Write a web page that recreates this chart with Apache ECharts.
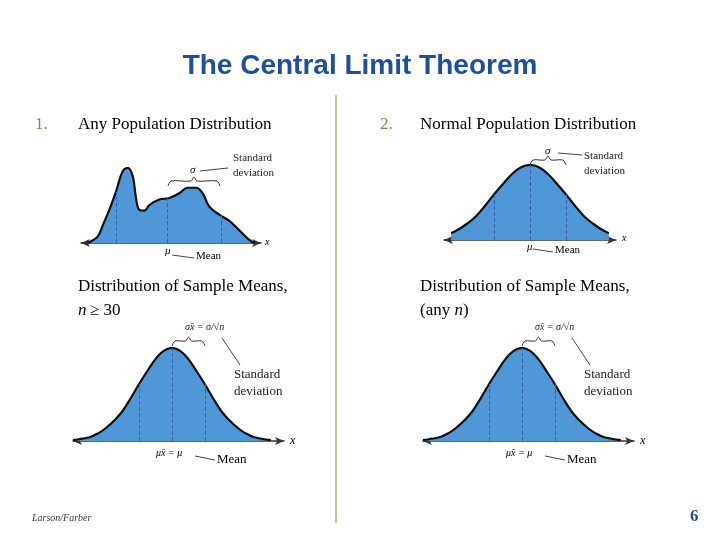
<!DOCTYPE html>
<html><head><meta charset="utf-8">
<script src="https://cdn.jsdelivr.net/npm/echarts@6/dist/echarts.min.js"></script>
<style>html,body{margin:0;background:#fff}#c{width:720px;height:540px}</style>
</head><body><div id="c"></div>
<script>
// any population distribution (x in 0..100, height)
const popX = [0, 1, 6, 9, 13, 17, 21, 24, 27, 29, 31, 34, 37, 43, 49, 55, 60, 65, 69, 73, 79, 85, 91, 97, 100]
const popY = [0, 1, 8, 22, 42, 65, 91, 95, 85, 57, 42, 41, 48, 55, 57, 63, 70, 70, 63, 46, 36, 28, 16, 4, 0]
const popDash = [17, 48, 80]
const popDashH = [65, 57, 36]
// normal curves, x in sigma units, height relative to peak
const normX = [-3, -2.5, -2.2, -2, -1.75, -1.5, -1.25, -1, -0.75, -0.5, -0.25, 0, 0.25, 0.5, 0.75, 1, 1.25, 1.5, 1.75, 2, 2.2, 2.5, 3]
const normY = [0.01, 0.04, 0.09, 0.14, 0.22, 0.32, 0.46, 0.61, 0.75, 0.88, 0.97, 1, 0.97, 0.88, 0.75, 0.61, 0.46, 0.32, 0.22, 0.14, 0.09, 0.04, 0.01]
const sigmaDash = [-1, 0, 1]
const sigmaDashH = [0.61, 1, 0.61]

const chart = echarts.init(document.getElementById('c'))
const blue = '#4f97d6'
const serif = 'Liberation Serif'

function pairs(xs, ys, lo, hi) {
    const out = []
    xs.forEach((x, i) => { if (x >= lo && x <= hi) out.push([x, ys[i]]) })
    return out
}

const grids = [
    {left: 81, top: 168, width: 180, height: 75},
    {left: 444, top: 165, width: 172, height: 75},
    {left: 73, top: 348, width: 211, height: 93},
    {left: 423, top: 348, width: 211, height: 93}
]
const xr = [[-4, 104], [-2.4, 2.4], [-3, 3.4], [-3, 3.4]]
const yMax = [95, 1, 1, 1]

const series = []
const curves = [
    [pairs(popX, popY, 0, 100), popDash, popDashH],
    [pairs(normX, normY, -2.2, 2.2), sigmaDash, sigmaDashH],
    [pairs(normX, normY, -3, 3), sigmaDash, sigmaDashH],
    [pairs(normX, normY, -3, 3), sigmaDash, sigmaDashH]
]
curves.forEach((c, i) => {
    series.push({
        type: 'line', xAxisIndex: i, yAxisIndex: i, data: c[0], smooth: 0.4, symbol: 'none',
        lineStyle: {color: '#111', width: 2.2}, areaStyle: {color: blue, opacity: 1},
        markLine: {
            silent: true, symbol: 'none', label: {show: false},
            lineStyle: {color: '#3a5fb0', type: 'dashed', width: 1},
            data: c[1].map((x, k) => [{coord: [x, 0]}, {coord: [x, c[2][k]]}])
        }
    })
})

function t(x, y, text, size, extra) {
    return {type: 'text', x: x, y: y, style: Object.assign({text: text, font: size + 'px "' + serif + '"', fill: '#000'}, extra || {})}
}
function brace(x1, x2, y) {
    const m = (x1 + x2) / 2
    return {type: 'polyline', shape: {points: [[x1, y + 5], [x1 + 3, y], [m - 3, y], [m, y - 4], [m + 3, y], [x2 - 3, y], [x2, y + 5]], smooth: 0.3},
        style: {stroke: '#333', fill: null, lineWidth: 1}}
}
function lead(x1, y1, x2, y2) {
    return {type: 'line', shape: {x1: x1, y1: y1, x2: x2, y2: y2}, style: {stroke: '#444', lineWidth: 1}}
}

const graphic = [
    {type: 'text', x: 360, y: 52, style: {text: 'The Central Limit Theorem', font: 'bold 28px Arial', fill: '#1f4e9c', textAlign: 'center'}},
    {type: 'line', shape: {x1: 336, y1: 95, x2: 336, y2: 523}, style: {stroke: '#c9a27e', lineWidth: 1.5}},
    t(35, 116, '1.', 17, {fill: '#a07850'}),
    t(78, 116, 'Any Population Distribution', 17),
    t(380, 116, '2.', 17, {fill: '#a07850'}),
    t(420, 116, 'Normal Population Distribution', 17),
    t(78, 278, 'Distribution of Sample Means,', 17),
    {type: 'text', x: 78, y: 302, style: {rich: {i: {font: 'italic 17px "Liberation Serif"'}, r: {font: '17px "Liberation Serif"'}}, text: '{i|n} {r|≥ 30}', fill: '#000'}},
    t(420, 278, 'Distribution of Sample Means,', 17),
    {type: 'text', x: 420, y: 302, style: {rich: {i: {font: 'italic 17px "Liberation Serif"'}, r: {font: '17px "Liberation Serif"'}}, text: '{r|(any }{i|n}{r|)}', fill: '#000'}},
    // chart 1 notes
    t(233, 151, 'Standard\ndeviation', 11, {lineHeight: 15, fill: '#222'}),
    t(190, 165, 'σ', 11, {font: 'italic 11px "Liberation Serif"'}),
    lead(200, 171, 228, 168), brace(168, 220, 181),
    t(165, 246, 'μ', 11, {font: 'italic 11px "Liberation Serif"'}), lead(172, 255, 194, 258),
    t(196, 251, 'Mean', 11), t(265, 237, 'x', 10, {font: 'italic 10px "Liberation Serif"'}),
    // chart 2 notes
    t(584, 149, 'Standard\ndeviation', 11, {lineHeight: 15, fill: '#222'}),
    t(545, 146, 'σ', 11, {font: 'italic 11px "Liberation Serif"'}), lead(558, 153, 582, 155),
    brace(530, 566, 160),
    t(527, 242, 'μ', 11, {font: 'italic 11px "Liberation Serif"'}), lead(533, 249, 553, 252),
    t(555, 245, 'Mean', 11), t(622, 233, 'x', 10, {font: 'italic 10px "Liberation Serif"'})
]
// bottom notes, same layout on both sides
;[0, 350].forEach(dx => {
    graphic.push(
        t(185 + dx, 322, 'σx̄ = σ/√n', 10, {font: 'italic 10px "Liberation Serif"', fill: '#222'}),
        brace(172 + dx, 205 + dx, 341),
        lead(222 + dx, 338, 240 + dx, 365),
        t(234 + dx, 366, 'Standard\ndeviation', 13, {lineHeight: 17, fill: '#222'}),
        t(156 + dx, 448, 'μx̄ = μ', 10, {font: 'italic 10px "Liberation Serif"'}),
        lead(195 + dx, 456, 215 + dx, 460),
        t(217 + dx, 453, 'Mean', 13),
        t(290 + dx, 435, 'x', 12, {font: 'italic 12px "Liberation Serif"'})
    )
})
graphic.push(
    t(32, 513, 'Larson/Farber', 10, {font: 'italic 10px "Liberation Serif"', fill: '#333'}),
    {type: 'text', x: 690, y: 508, style: {text: '6', font: 'bold 17px "Liberation Serif"', fill: '#1f4e9c'}}
)

chart.setOption({
    animation: false,
    grid: grids,
    xAxis: xr.map((r, i) => ({
        type: 'value', gridIndex: i, min: r[0], max: r[1],
        axisLine: {show: true, symbol: ['arrow', 'arrow'], symbolSize: [6, 9], lineStyle: {color: '#333', width: 1.5}},
        axisTick: {show: false}, axisLabel: {show: false}, splitLine: {show: false}
    })),
    yAxis: yMax.map((m, i) => ({
        type: 'value', gridIndex: i, min: 0, max: m, show: false, splitLine: {show: false}
    })),
    series: series,
    graphic: graphic
})
</script>
</body></html>
